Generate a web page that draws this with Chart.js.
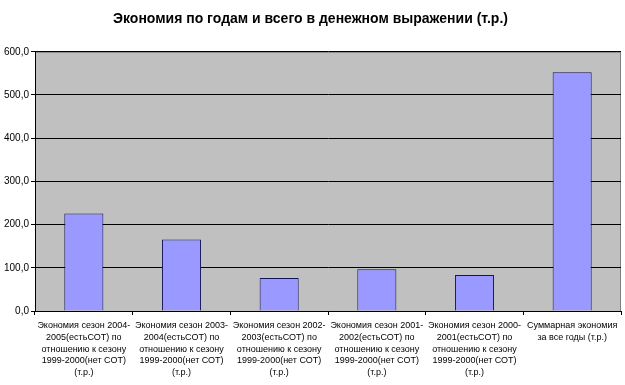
<!DOCTYPE html>
<html lang="ru">
<head>
    <meta charset="UTF-8">
    <title>Экономия по годам</title>
    <script src="https://cdn.jsdelivr.net/npm/chart.js"></script>
    <style>
        body { margin: 0; background: #fff; }
        #wrap { width: 625px; height: 385px; }
    </style>
</head>
<body>
    <div id="wrap"><canvas id="myChart"></canvas></div>

    <script type="text/javascript">
        // data
        const categories = [
            ['Экономия сезон 2004-', '2005(естьСОТ) по', 'отношению к сезону', '1999-2000(нет СОТ)', '(т.р.)'],
            ['Экономия сезон 2003-', '2004(естьСОТ) по', 'отношению к сезону', '1999-2000(нет СОТ)', '(т.р.)'],
            ['Экономия сезон 2002-', '2003(естьСОТ) по', 'отношению к сезону', '1999-2000(нет СОТ)', '(т.р.)'],
            ['Экономия сезон 2001-', '2002(естьСОТ) по', 'отношению к сезону', '1999-2000(нет СОТ)', '(т.р.)'],
            ['Экономия сезон 2000-', '2001(естьСОТ) по', 'отношению к сезону', '1999-2000(нет СОТ)', '(т.р.)'],
            ['Суммарная экономия', 'за все годы (т.р.)']
        ];
        const savings = [225.5, 165.5, 76.5, 96.5, 83.5, 552.5];
        const yTicks = [0, 100, 200, 300, 400, 500, 600];

        const fontFamily = '"Liberation Sans", Arial, sans-serif';

        // grey plot area with a thin border, like the old Excel chart
        const plotBg = {
            id: 'plotBg',
            beforeDraw(chart) {
                const a = chart.chartArea;
                const c = chart.ctx;
                c.save();
                c.fillStyle = '#c0c0c0';
                c.fillRect(a.left, a.top, a.right - a.left, a.bottom - a.top);
                c.strokeStyle = '#808080';
                c.lineWidth = 1;
                c.strokeRect(a.left + 0.5, a.top + 0.5, a.right - a.left - 1, a.bottom - a.top);
                c.restore();
            }
        };

        const ctx = document.getElementById('myChart');
        let myChart = new Chart(ctx, {
            type: 'bar',
            data: {
                labels: categories,
                datasets: [{
                    label: 'Экономия',
                    data: savings,
                    backgroundColor: '#9999ff',
                    borderColor: '#14145a',
                    borderWidth: 1,
                    categoryPercentage: 1,
                    barPercentage: 0.4
                }]
            },
            options: {
                responsive: true,
                maintainAspectRatio: false,
                animation: false,
                layout: { padding: { left: 0, right: 4, top: 0, bottom: 0 } },
                plugins: {
                    legend: { display: false },
                    tooltip: { enabled: false },
                    title: {
                        display: true,
                        text: 'Экономия по годам и всего в денежном выражении (т.р.)',
                        color: '#000',
                        font: { family: fontFamily, size: 14, weight: 'bold' },
                        padding: { top: 11, bottom: 24 }
                    }
                },
                scales: {
                    x: {
                        grid: {
                            offset: true,
                            drawOnChartArea: false,
                            color: '#000',
                            tickLength: 4
                        },
                        border: { color: '#000' },
                        ticks: {
                            color: '#000',
                            maxRotation: 0,
                            autoSkip: false,
                            padding: 5,
                            font: { family: fontFamily, size: 9, lineHeight: 1.3 }
                        },
                        afterFit(scale) { scale.height = 74; }
                    },
                    y: {
                        min: 0,
                        max: 600,
                        afterBuildTicks(scale) {
                            scale.ticks = yTicks.map(v => ({ value: v }));
                        },
                        grid: { color: '#000', tickLength: 4 },
                        border: { color: '#000' },
                        ticks: {
                            color: '#000',
                            padding: 2,
                            font: { family: fontFamily, size: 10 },
                            callback: v => v.toFixed(1).replace('.', ',')
                        },
                        afterFit(scale) { scale.width = 35; }
                    }
                }
            },
            plugins: [plotBg]
        });
    </script>
</body>
</html>
